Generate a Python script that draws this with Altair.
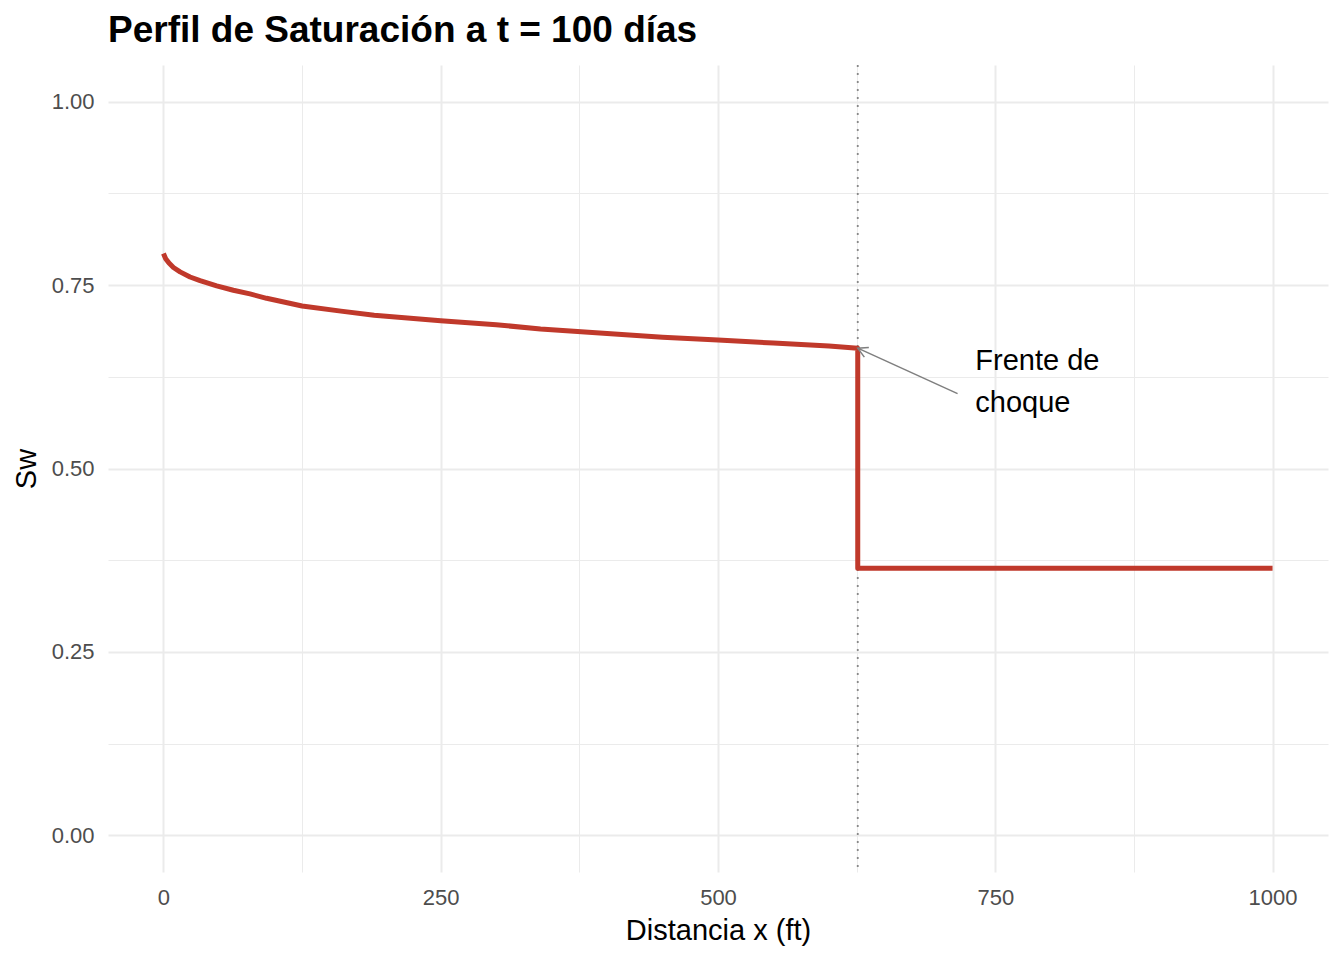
import altair as alt
import pandas as pd

# Saturation profile
x_curve = [0, 2, 5, 9, 15, 24, 33, 48, 63, 78, 93, 125, 160, 190, 250, 300, 340,
           400, 450, 500, 550, 600, 626, 626, 1000]
sw_curve = [0.793, 0.786, 0.780, 0.774, 0.768, 0.761, 0.756, 0.749, 0.743, 0.738,
            0.732, 0.7215, 0.7145, 0.709, 0.7015, 0.696, 0.690, 0.684, 0.679, 0.675,
            0.671, 0.667, 0.664, 0.364, 0.364]

x_front = [626]
arrow_tail_x = [716]
arrow_tail_y = [0.602]
arrow_head_x = [626]
arrow_head_y = [0.664]
label_x = [732]
label_y = [0.6467]
label_text = ["Frente de\nchoque"]

x_ticks = [0, 125, 250, 375, 500, 625, 750, 875, 1000]
y_ticks = [0, 0.125, 0.25, 0.375, 0.5, 0.625, 0.75, 0.875, 1.0]

FONT = "Liberation Sans"

curve_df = pd.DataFrame({"x": x_curve, "sw": sw_curve, "order": list(range(len(x_curve)))})
front_df = pd.DataFrame({"x": x_front})
arrow_df = pd.DataFrame({"x": arrow_tail_x, "y": arrow_tail_y,
                         "x2": arrow_head_x, "y2": arrow_head_y})
head_df = pd.DataFrame({"x": arrow_head_x, "y": arrow_head_y})
label_df = pd.DataFrame({"x": label_x, "y": label_y, "t": label_text})

xscale = alt.Scale(domain=[-50, 1050], nice=False, zero=False)
yscale = alt.Scale(domain=[-0.05, 1.05], nice=False, zero=False)

grid_w_x = {"condition": {"test": "datum.value % 250 === 0", "value": 2}, "value": 1}
grid_w_y = {"condition": {"test": "(datum.value * 4) % 1 === 0", "value": 2}, "value": 1}

xaxis = alt.Axis(values=x_ticks, title="Distancia x (ft)", domain=False, ticks=False,
                 grid=True, gridColor="#ebebeb", gridWidth=grid_w_x, format="d",
                 labelExpr="datum.value % 250 === 0 ? datum.label : ''",
                 labelFont=FONT, labelFontSize=22, labelColor="#4d4d4d",
                 labelPadding=15, titleFont=FONT, titleFontSize=29,
                 titleFontWeight="normal", titleColor="black", titlePadding=8)
yaxis = alt.Axis(values=y_ticks, title="Sw", domain=False, ticks=False,
                 grid=True, gridColor="#ebebeb", gridWidth=grid_w_y,
                 format=".2f",
                 labelExpr="(datum.value * 4) % 1 === 0 ? datum.label : ''",
                 labelFont=FONT, labelFontSize=22, labelColor="#4d4d4d",
                 labelPadding=14, titleFont=FONT, titleFontSize=29,
                 titleFontWeight="normal", titleColor="black", titlePadding=10)

base_line = alt.Chart(curve_df).mark_line(color="#c0392b", strokeWidth=5,
                                          strokeCap="butt", strokeJoin="round").encode(
    x=alt.X("x:Q", scale=xscale, axis=xaxis),
    y=alt.Y("sw:Q", scale=yscale, axis=yaxis),
    order="order:Q",
)

front = alt.Chart(front_df).mark_rule(color="#888888", strokeWidth=1.8,
                                      strokeDash=[2, 6]).encode(
    x=alt.X("x:Q", scale=xscale),
)

arrow = alt.Chart(arrow_df).mark_rule(color="#7f7f7f", strokeWidth=1.5).encode(
    x=alt.X("x:Q", scale=xscale), y=alt.Y("y:Q", scale=yscale),
    x2="x2:Q", y2="y2:Q",
)

head = alt.Chart(head_df).mark_point(
    shape="M -1 -0.55 L 0 0 L -1 0.55", size=380, filled=False,
    color="#7f7f7f", strokeWidth=1.5, angle=204.7, opacity=1,
).encode(x=alt.X("x:Q", scale=xscale), y=alt.Y("y:Q", scale=yscale))

label = alt.Chart(label_df).mark_text(
    align="left", baseline="middle", font=FONT, fontSize=29, lineBreak="\n",
    lineHeight=42, color="black",
).encode(x=alt.X("x:Q", scale=xscale), y=alt.Y("y:Q", scale=yscale), text="t:N")

chart = alt.layer(front, base_line, arrow, head, label).properties(
    width=1220, height=807,
    title=alt.TitleParams("Perfil de Saturación a t = 100 días", anchor="start",
                          frame="group", font=FONT, fontSize=37, fontWeight="bold",
                          color="black", offset=14),
    autosize=alt.AutoSizeParams(type="none"),
    padding={"left": 100, "top": 57, "right": 8, "bottom": 80},
    background="white",
).configure_view(strokeWidth=0, stroke=None)

chart.save("out.html", embed_options={"renderer": "svg", "actions": False})
